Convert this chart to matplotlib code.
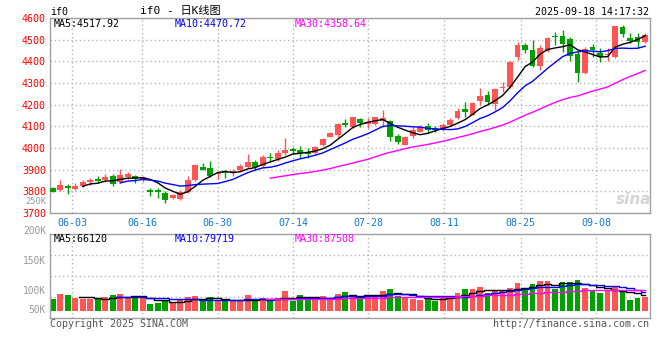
import matplotlib
matplotlib.use("Agg")
import matplotlib.pyplot as plt
import pandas as pd

# 日K数据 (05-28 ... 09-17), 读自原图
opens = [3814, 3806, 3826, 3811, 3825, 3843, 3857, 3854, 3872, 3842,
         3868, 3872, 3852, 3804, 3805, 3794, 3771, 3763, 3797, 3850,
         3912, 3909, 3879, 3888, 3886, 3897, 3914, 3934, 3918, 3960,
         3949, 3975, 3994, 3991, 3983, 3978, 4014, 4052, 4060, 4117,
         4097, 4134, 4111, 4109, 4125, 4125, 4055, 4014, 4057, 4075,
         4102, 4091, 4083, 4106, 4137, 4180, 4152, 4217, 4245, 4202,
         4278, 4280, 4421, 4475, 4452, 4380, 4448, 4518, 4518, 4503,
         4432, 4345, 4468, 4440, 4429, 4421, 4557, 4509, 4512, 4491]
highs = [3821, 3852, 3832, 3839, 3852, 3863, 3871, 3880, 3880, 3903,
         3889, 3877, 3872, 3814, 3814, 3802, 3788, 3805, 3872, 3926,
         3929, 3940, 3888, 3898, 3902, 3925, 3972, 3945, 3968, 3978,
         3991, 4048, 4003, 4009, 3999, 4009, 4045, 4074, 4114, 4134,
         4145, 4140, 4137, 4145, 4175, 4128, 4063, 4056, 4098, 4106,
         4117, 4103, 4114, 4140, 4183, 4214, 4210, 4278, 4263, 4275,
         4303, 4400, 4488, 4483, 4498, 4475, 4514, 4534, 4545, 4514,
         4448, 4468, 4480, 4460, 4460, 4565, 4568, 4529, 4529, 4529]
lows = [3795, 3803, 3789, 3806, 3820, 3831, 3837, 3845, 3826, 3837,
        3856, 3840, 3845, 3780, 3768, 3748, 3763, 3760, 3794, 3846,
        3897, 3866, 3858, 3863, 3872, 3892, 3906, 3898, 3914, 3937,
        3941, 3968, 3972, 3952, 3952, 3971, 4011, 4049, 4049, 4096,
        4094, 4098, 4093, 4106, 4098, 4034, 4017, 4014, 4048, 4072,
        4068, 4075, 4079, 4104, 4132, 4145, 4150, 4198, 4202, 4174,
        4260, 4278, 4406, 4440, 4375, 4362, 4445, 4475, 4445, 4402,
        4306, 4340, 4421, 4398, 4402, 4415, 4514, 4483, 4460, 4483]
closes = [3799, 3831, 3817, 3825, 3843, 3854, 3848, 3866, 3832, 3875,
          3881, 3856, 3868, 3796, 3797, 3760, 3782, 3796, 3854, 3922,
          3900, 3872, 3883, 3884, 3895, 3918, 3937, 3914, 3957, 3952,
          3975, 3991, 3984, 3977, 3972, 4006, 4042, 4068, 4111, 4107,
          4143, 4114, 4119, 4143, 4140, 4052, 4026, 4052, 4082, 4095,
          4083, 4084, 4106, 4129, 4171, 4165, 4206, 4241, 4211, 4272,
          4283, 4398, 4475, 4450, 4380, 4463, 4506, 4510, 4479, 4426,
          4345, 4457, 4450, 4422, 4434, 4563, 4525, 4494, 4487, 4521]
# 成交量 (K)
volumes = [48, 69, 65, 52, 48, 48, 47, 55, 65, 69,
           55, 60, 53, 28, 32, 40, 33, 47, 56, 60,
           41, 56, 40, 41, 40, 40, 65, 39, 52, 39,
           52, 82, 41, 65, 48, 47, 60, 51, 69, 78,
           65, 48, 60, 65, 82, 89, 60, 55, 48, 44,
           53, 41, 60, 60, 74, 89, 89, 99, 74, 85,
           82, 95, 115, 89, 110, 122, 122, 89, 118, 118,
           126, 95, 81, 74, 81, 96, 81, 44, 53, 58]

date_pos = [2.6, 11.9, 22.0, 32.1, 42.1, 52.2, 62.4, 72.5]
date_labels = ["06-03", "06-16", "06-30", "07-14", "07-28", "08-11", "08-25", "09-08"]
price_ticks = [3700, 3800, 3900, 4000, 4100, 4200, 4300, 4400, 4500, 4600]
vol_labels = ["250K", "200K", "150K", "100K", "50K"]
vol_label_y = [201, 231, 261, 291, 310]

RED = "#ff5555"
GREEN = "#00a000"
GRID = "#b4b4b4"
BORDER = "#a0a0a0"
DATE_BLUE = "#1478d4"
FS = 7.2

plt.rcParams['font.family'] = ['DejaVu Sans Mono', 'Noto Sans CJK SC']

df = pd.DataFrame({"o": opens, "h": highs, "l": lows, "c": closes, "v": volumes})
x = list(range(len(df)))
up = df.c >= df.o
colors = [RED if u else GREEN for u in up]

fig = plt.figure(figsize=(6.6, 3.6), dpi=100)
ax = fig.add_axes([50 / 660, 147 / 360, 600 / 660, 195 / 360])
axv = fig.add_axes([50 / 660, 42 / 360, 600 / 660, 84 / 360])


def px(xp, yp):
    return xp / 660, 1 - yp / 360


for a in (ax, axv):
    a.set_xlim(-0.36, 79.65)
    for s in a.spines.values():
        s.set_color(BORDER)
        s.set_linewidth(1)
    a.set_xticks(date_pos)
    a.grid(axis="x", color=GRID, linestyle=(0, (1, 2)), linewidth=1)
    a.set_axisbelow(True)

# K线
ax.vlines(x, df.l, df.h, colors=colors, linewidth=1, zorder=2)
body = (df.c - df.o).abs().clip(lower=3)
ax.bar(x, body, bottom=df[["o", "c"]].min(axis=1), width=0.76,
       color=colors, linewidth=0, zorder=3)
ax.plot(x, df.c.rolling(5).mean(), color="black", lw=1, zorder=4)
ax.plot(x, df.c.rolling(10).mean(), color="#0000ff", lw=1, zorder=4)
ax.plot(x, df.c.rolling(30).mean(), color="#ff00ff", lw=1, zorder=4)
ax.set_ylim(3700, 4600)
ax.set_yticks(price_ticks)
ax.grid(axis="y", color=GRID, linestyle=(0, (1, 2)), linewidth=1)
ax.tick_params(axis="y", length=0, pad=3, labelsize=FS, labelcolor="#ff0000")
ax.tick_params(axis="x", length=0, pad=3.5, labelsize=FS, labelcolor=DATE_BLUE)
ax.set_xticklabels(date_labels)

# 成交量
axv.bar(x, df.v, width=0.76, color=colors, linewidth=0, zorder=2)
axv.plot(x, df.v.rolling(5).mean(), color="black", lw=1, drawstyle="steps-mid", zorder=3)
axv.plot(x, df.v.rolling(10).mean(), color="#0000ff", lw=1, drawstyle="steps-mid", zorder=3)
axv.plot(x, df.v.rolling(30).mean(), color="#ff00ff", lw=1, drawstyle="steps-mid", zorder=3)
axv.set_ylim(-30, 315.6)
axv.set_yticks([])
axv.tick_params(axis="x", length=0, labelbottom=False)
for f in (0.25, 0.5, 0.75):
    axv.plot([0, 1], [f, f], transform=axv.transAxes, color=GRID,
             linestyle=(0, (1, 2)), linewidth=1, zorder=1)

for lab, yp in zip(vol_labels, vol_label_y):
    fig.text(*px(46, yp), lab, ha="right", va="center",
             fontsize=6.3 if lab == "250K" else 6.9, color="#999999")

# 文字
fig.text(*px(50.5, 12), "if0", ha="left", va="center", fontsize=FS)
fig.text(*px(140, 11), "if0 - 日K线图", ha="left", va="center", fontsize=8)
fig.text(*px(649, 12), "2025-09-18 14:17:32", ha="right", va="center", fontsize=FS)
fig.text(*px(54, 24), "MA5:4517.92", ha="left", va="center", fontsize=FS, color="black")
fig.text(*px(175, 24), "MA10:4470.72", ha="left", va="center", fontsize=FS, color="#0000ff")
fig.text(*px(295, 24), "MA30:4358.64", ha="left", va="center", fontsize=FS, color="#ff00ff")
fig.text(*px(54, 239), "MA5:66120", ha="left", va="center", fontsize=FS, color="black")
fig.text(*px(175, 239), "MA10:79719", ha="left", va="center", fontsize=FS, color="#0000ff")
fig.text(*px(295, 239), "MA30:87508", ha="left", va="center", fontsize=FS, color="#ff00ff")
fig.text(*px(50, 324), "Copyright 2025 SINA.COM", ha="left", va="center", fontsize=FS, color="#555555")
fig.text(*px(649, 324), "http://finance.sina.com.cn", ha="right", va="center", fontsize=FS, color="#555555")
fig.text(*px(634, 200), "sina", ha="center", va="center", fontsize=11, style="italic",
         weight="bold", color="#d4d4d4", family="DejaVu Sans")

fig.savefig("out.png", dpi=100)
